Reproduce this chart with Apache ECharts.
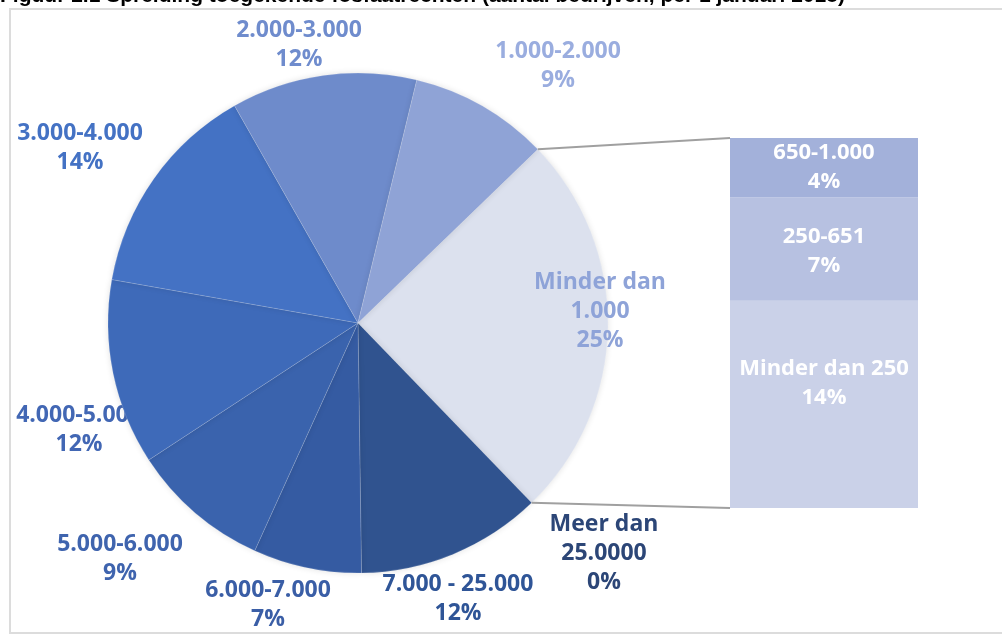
<!DOCTYPE html>
<html>
<head>
<meta charset="utf-8">
<script src="https://cdn.jsdelivr.net/npm/echarts@6/dist/echarts.min.js"></script>
<style>
html,body{margin:0;padding:0;background:#fff;}
#c{width:1002px;height:635px;}
</style>
</head>
<body>
<div id="c"></div>
<script>
// ---- data ----
const titleText = 'Figuur 2.1 Spreiding toegekende fosfaatrechten (aantal bedrijven, per 1 januari 2018)';
const pieCategories = ['Minder dan\n1.000', 'Meer dan\n25.0000', '7.000 - 25.000', '6.000-7.000', '5.000-6.000', '4.000-5.000', '3.000-4.000', '2.000-3.000', '1.000-2.000'];
const pieValues = [25, 0, 12, 7, 9, 12, 14, 12, 9];
const barCategories = ['Minder dan 250', '250-651', '650-1.000'];
const barValues = [14, 7, 4];

// ---- styles / layout ----
const pieColors = ['#dce1ee', '#2a4a85', '#30538f', '#355ba2', '#3a63ad', '#3e6ab9', '#4472c4', '#6e8bcb', '#8fa3d6'];
const labelColors = ['#8ea3d8', '#2c4677', '#2f5597', '#3a5ea6', '#3f64ae', '#4267b4', '#4472c4', '#6f8ccd', '#9aaddf'];
const labelOnTop = [true, false, false, false, false, false, false, false, false];
const labelAnchors = [[600, 311], [604, 553], [458, 599], [268, 605], [120, 559], [79, 430], [80, 148], [299, 45], [558, 66]];
const barColors = ['#cad1e8', '#b7c1e1', '#a3b1da'];
const barLabelOffsets = [[0, -21], [0, 2], [0, 0]];
const pieCenter = [358, 323];
const pieRadius = 250;
const pieStart = 44;
const FONT = '"Open Sans", sans-serif';

const chart = echarts.init(document.getElementById('c'));

const labelBase = {
  formatter: p => p.name + '\n' + p.value + '%',
  fontFamily: FONT, fontWeight: 'bold', fontSize: 23, lineHeight: 29, align: 'center', position: 'inside'
};
const layoutFn = p => ({ x: labelAnchors[p.dataIndex][0], y: labelAnchors[p.dataIndex][1], align: 'center', verticalAlign: 'middle' });

const pieData = pieCategories.map((n, i) => ({
  name: n, value: pieValues[i],
  itemStyle: { color: pieColors[i] },
  label: Object.assign({}, labelBase, { show: labelOnTop[i], color: labelColors[i] })
}));
const labelData = pieCategories.map((n, i) => ({
  name: n, value: pieValues[i],
  label: Object.assign({}, labelBase, { show: !labelOnTop[i], color: labelColors[i] })
}));

const barSeries = barCategories.map((n, i) => ({
  name: n, type: 'bar', stack: 'b', barWidth: '100%',
  data: [barValues[i]],
  itemStyle: { color: barColors[i] },
  label: {
    show: true, position: 'inside', offset: barLabelOffsets[i],
    formatter: '{a}\n{c}%', color: '#fff', fontFamily: FONT, fontWeight: 'bold',
    fontSize: 22, lineHeight: 29
  }
}));

chart.setOption({
  animation: false,
  title: {
    text: titleText, left: 0, top: -14, padding: 0,
    textStyle: { fontFamily: '"Liberation Sans", Arial, sans-serif', fontWeight: 'bold', fontSize: 21, color: '#000' }
  },
  grid: { left: 730, top: 138, width: 188, height: 370 },
  xAxis: { type: 'category', data: [''], show: false },
  yAxis: { type: 'value', min: 0, max: 25, show: false },
  series: [
    {
      type: 'pie', z: 1, center: pieCenter, radius: pieRadius,
      startAngle: pieStart, clockwise: true, silent: true,
      data: labelData,
      itemStyle: { color: 'rgba(0,0,0,0)' },
      labelLine: { show: false },
      labelLayout: layoutFn
    },
    {
      type: 'pie', z: 2, center: pieCenter, radius: pieRadius,
      startAngle: pieStart, clockwise: true,
      data: pieData,
      labelLine: { show: false },
      labelLayout: layoutFn,
      itemStyle: { borderColor: 'rgba(255,255,255,0.25)', borderWidth: 0.6, shadowBlur: 6, shadowColor: 'rgba(0,0,0,0.12)' },
      emphasis: { disabled: true }
    },
    ...barSeries
  ]
});

// connector lines from the "Minder dan 1.000" slice edges to the bar corners
const total = pieValues.reduce((a, b) => a + b, 0);
const a0 = pieStart * Math.PI / 180;
const a1 = (pieStart - pieValues[0] / total * 360) * Math.PI / 180;
const p0 = [pieCenter[0] + pieRadius * Math.cos(a0), pieCenter[1] - pieRadius * Math.sin(a0)];
const p1 = [pieCenter[0] + pieRadius * Math.cos(a1), pieCenter[1] - pieRadius * Math.sin(a1)];
const barSum = barValues.reduce((a, b) => a + b, 0);
const topLeft = chart.convertToPixel({ gridIndex: 0 }, [0, barSum]);
const botLeft = chart.convertToPixel({ gridIndex: 0 }, [0, 0]);
const barLeftX = 730;

chart.setOption({
  graphic: [
    { type: 'rect', z: 0, shape: { x: 10, y: 9, width: 1100, height: 624 }, style: { fill: 'none', stroke: '#dcdcdc', lineWidth: 2 } },
    { type: 'line', z: 3, shape: { x1: p0[0], y1: p0[1], x2: barLeftX, y2: topLeft[1] }, style: { stroke: '#a0a0a0', lineWidth: 2 } },
    { type: 'line', z: 3, shape: { x1: p1[0], y1: p1[1], x2: barLeftX, y2: botLeft[1] }, style: { stroke: '#a0a0a0', lineWidth: 2 } }
  ]
});
</script>
</body>
</html>
